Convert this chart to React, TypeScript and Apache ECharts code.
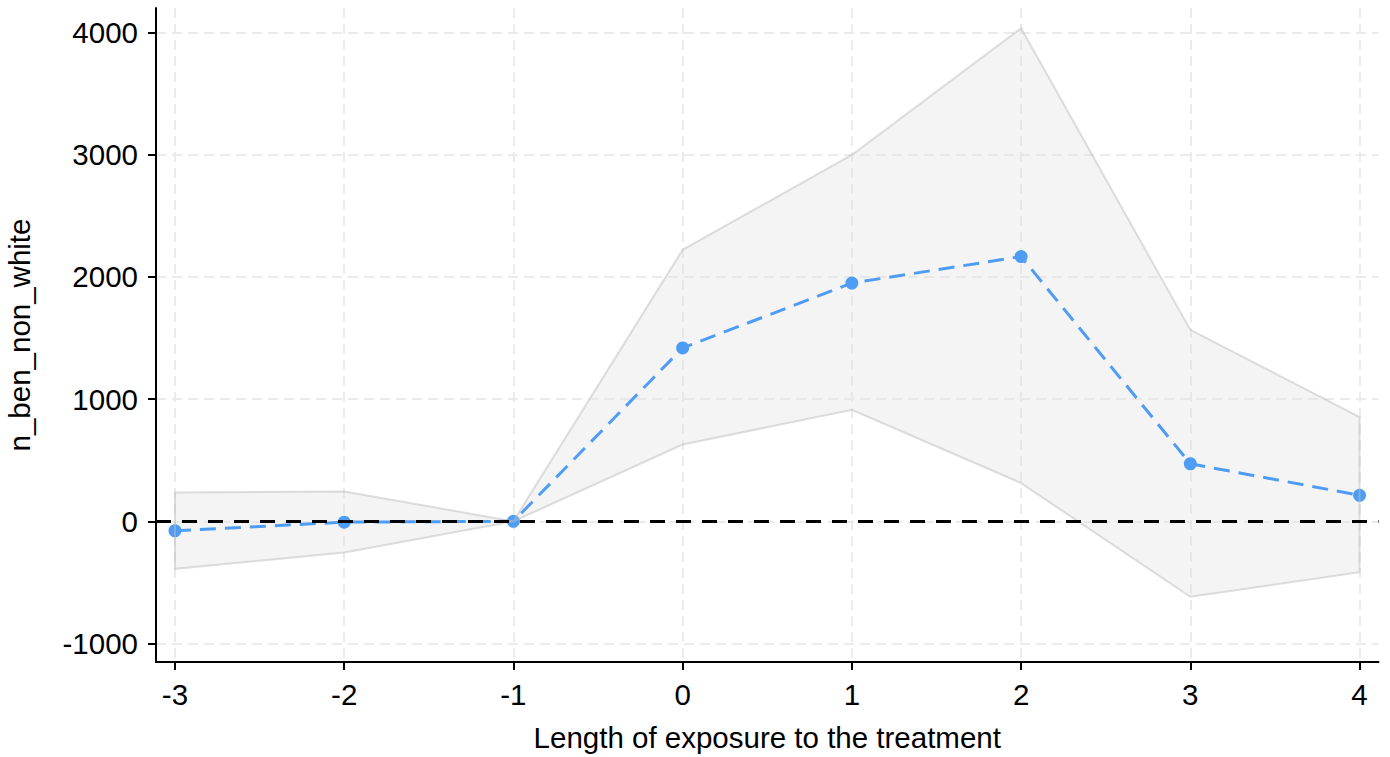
import React, { useEffect, useRef } from "react";
import * as echarts from "echarts";

const periods = [-3, -2, -1, 0, 1, 2, 3, 4];
const estimate = [-78, -7, 0, 1419, 1950, 2167, 471, 213];
const ciUpper = [236, 244, 0, 2222, 2999, 4036, 1567, 853];
const ciLower = [-389, -255, 0, 628, 912, 313, -618, -417];
const xTicks = [-3, -2, -1, 0, 1, 2, 3, 4];
const yTicks = [-1000, 0, 1000, 2000, 3000, 4000];

const FONT = "'Liberation Sans', Arial, sans-serif";
const FS = 29.5;

export default function App() {
  const ref = useRef<HTMLDivElement>(null);
  useEffect(() => {
    if (!ref.current) return;
    const chart = echarts.init(ref.current, undefined, { renderer: "svg" });
    const bandPoints = (api: any) => {
      const up = periods.map((x, i) => api.coord([x, ciUpper[i]]));
      const lo = periods.map((x, i) => api.coord([x, ciLower[i]])).reverse();
      return up.concat(lo);
    };
    const gridLine = { show: true, lineStyle: { color: "#ebebeb", width: 2, type: [10, 6] } };
    chart.setOption({
      animation: false,
      backgroundColor: "#ffffff",
      grid: {
        left: 156,
        right: 11.5,
        top: 8,
        bottom: 95,
        containLabel: false,
        outerBoundsMode: "none",
      },
      xAxis: {
        type: "value",
        min: -3.112,
        max: 4.112,
        name: "Length of exposure to the treatment",
        nameLocation: "middle",
        nameGap: 60,
        nameTextStyle: { fontFamily: FONT, fontSize: FS, color: "#000" },
        axisLine: { show: true, onZero: false, lineStyle: { color: "#000", width: 2 } },
        axisTick: { show: true, customValues: xTicks, length: 8, lineStyle: { color: "#000", width: 2 } },
        axisLabel: {
          customValues: xTicks,
          fontFamily: FONT,
          fontSize: FS,
          color: "#000",
          margin: 17,
          formatter: (v: number) => String(v),
        },
        splitLine: gridLine,
      },
      yAxis: {
        type: "value",
        min: -1152,
        max: 4202,
        name: "n_ben_non_white",
        nameLocation: "middle",
        nameGap: 122,
        nameRotate: 90,
        nameTextStyle: { fontFamily: FONT, fontSize: FS, color: "#000" },
        axisLine: { show: true, onZero: false, lineStyle: { color: "#000", width: 2 } },
        axisTick: { show: true, customValues: yTicks, length: 8, lineStyle: { color: "#000", width: 2 } },
        axisLabel: {
          customValues: yTicks,
          fontFamily: FONT,
          fontSize: FS,
          color: "#000",
          margin: 18,
          formatter: (v: number) => String(v),
        },
        splitLine: gridLine,
      },
      series: [
        {
          type: "line",
          z: 1,
          data: [],
          markLine: {
            silent: true,
            symbol: "none",
            label: { show: false },
            lineStyle: { color: "#000", width: 3, type: [15, 11] },
            data: [{ yAxis: 0 }],
          },
        },
        {
          type: "custom",
          z: 2,
          silent: true,
          data: [[periods[0], ciUpper[0]]],
          renderItem: (params: any, api: any) => ({
            type: "polygon",
            shape: { points: bandPoints(api) },
            style: { fill: "rgba(226,226,226,0.38)", stroke: "none" },
          }),
        },
        {
          type: "line",
          z: 3,
          data: periods.map((x, i) => [x, estimate[i]]),
          symbol: "circle",
          symbolSize: 13,
          showSymbol: true,
          itemStyle: { color: "#4f9cf4" },
          lineStyle: { color: "#4f9cf4", width: 3, type: [16, 9] },
        },
        {
          type: "custom",
          z: 4,
          silent: true,
          data: [[periods[0], ciUpper[0]]],
          renderItem: (params: any, api: any) => ({
            type: "polygon",
            shape: { points: bandPoints(api) },
            style: { fill: "none", stroke: "rgba(190,190,190,0.5)", lineWidth: 2 },
          }),
        },
      ],
    });
    return () => chart.dispose();
  }, []);
  return (
    <div
      ref={ref}
      style={{ position: "fixed", left: 0, top: 0, width: 1390, height: 757 }}
    />
  );
}
